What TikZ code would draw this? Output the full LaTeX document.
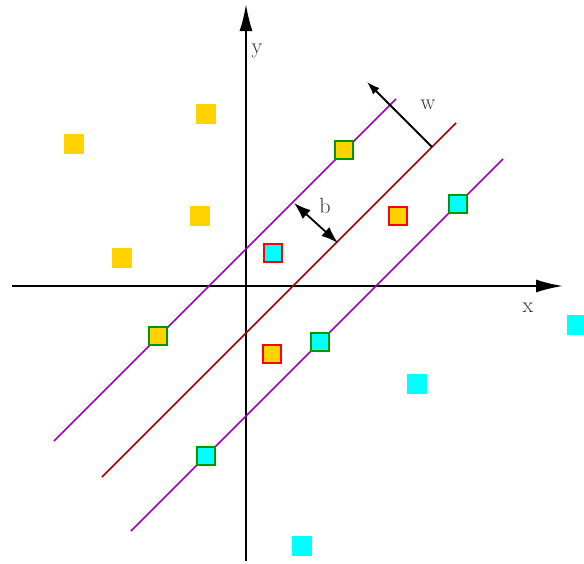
\documentclass[tikz,border=0pt]{standalone}
\usetikzlibrary{arrows.meta}
\definecolor{sqyellow}{RGB}{255,210,0}
\definecolor{sqcyan}{RGB}{0,255,255}
\definecolor{bgreen}{RGB}{0,150,0}
\definecolor{bred}{RGB}{255,0,0}
\definecolor{lpurple}{RGB}{160,0,190}
\definecolor{ldred}{RGB}{170,0,0}
\begin{document}
\begin{tikzpicture}[x=1pt,y=-1pt,
  axis/.style={line width=2pt,-{Latex[length=27pt,width=13pt]}},
  margin/.style={lpurple,line width=1.7pt},
  hyper/.style={ldred,line width=1.7pt},
  plainsq/.style={minimum size=20pt,inner sep=0pt,draw=none,rectangle},
  ysq/.style={plainsq,fill=sqyellow},
  csq/.style={plainsq,fill=sqcyan},
  bsq/.style={minimum size=18.5pt,inner sep=0pt,rectangle,line width=2pt},
  ygsq/.style={bsq,fill=sqyellow,draw=bgreen},
  cgsq/.style={bsq,fill=sqcyan,draw=bgreen},
  crsq/.style={bsq,fill=sqcyan,draw=bred},
  yrsq/.style={bsq,fill=sqyellow,draw=bred},
  lbl/.style={font=\fontsize{22}{26}\selectfont,text=black!80,inner sep=0pt}
]
\useasboundingbox (0,0) rectangle (584,563);
% axes
\coordinate (xs) at (12,286);
\coordinate (xe) at (563,286);
\coordinate (ys) at (246,561);
\coordinate (ye) at (246,4);
\draw[axis] (xs) -- (xe);
\draw[axis] (ys) -- (ye);
\node[lbl] (ylab) at (257,51) {y};
\node[lbl] (xlab) at (528,308) {x};
% lines
\coordinate (u1) at (54,441);
\coordinate (u2) at (396,99);
\coordinate (m1) at (102,477);
\coordinate (m2) at (456,123);
\coordinate (l1) at (131,531);
\coordinate (l2) at (503,159);
\draw[margin] (u1) -- (u2);
\draw[hyper] (m1) -- (m2);
\draw[margin] (l1) -- (l2);
% plain squares
\node[ysq] (y1) at (74,144) {};
\node[ysq] (y2) at (206,114) {};
\node[ysq] (y3) at (200,216) {};
\node[ysq] (y4) at (122,258) {};
\node[csq] (c1) at (577,325) {};
\node[csq] (c2) at (417,384) {};
\node[csq] (c3) at (302,546) {};
% support vectors
\node[ygsq] (sv1) at (344,150) {};
\node[ygsq] (sv2) at (158,336) {};
\node[cgsq] (sv3) at (458,204) {};
\node[cgsq] (sv4) at (320,342) {};
\node[cgsq] (sv5) at (206,456) {};
% misclassified
\node[crsq] (e1) at (273,253) {};
\node[yrsq] (e2) at (398,216) {};
\node[yrsq] (e3) at (272,354) {};
% b arrow
\coordinate (b1) at (294,203);
\coordinate (b2) at (338,243);
\draw[line width=1.8pt,{Latex[length=17pt,width=12pt]}-{Latex[length=17pt,width=12pt]}] (b1) -- (b2);
\node[lbl] (blab) at (325,206) {b};
% w arrow
\coordinate (w1) at (432,147);
\coordinate (w2) at (367,82);
\draw[line width=1.8pt,-{Latex[length=13pt,width=9pt]}] (w1) -- (w2);
\node[lbl] (wlab) at (428,105) {w};
\end{tikzpicture}
\end{document}
